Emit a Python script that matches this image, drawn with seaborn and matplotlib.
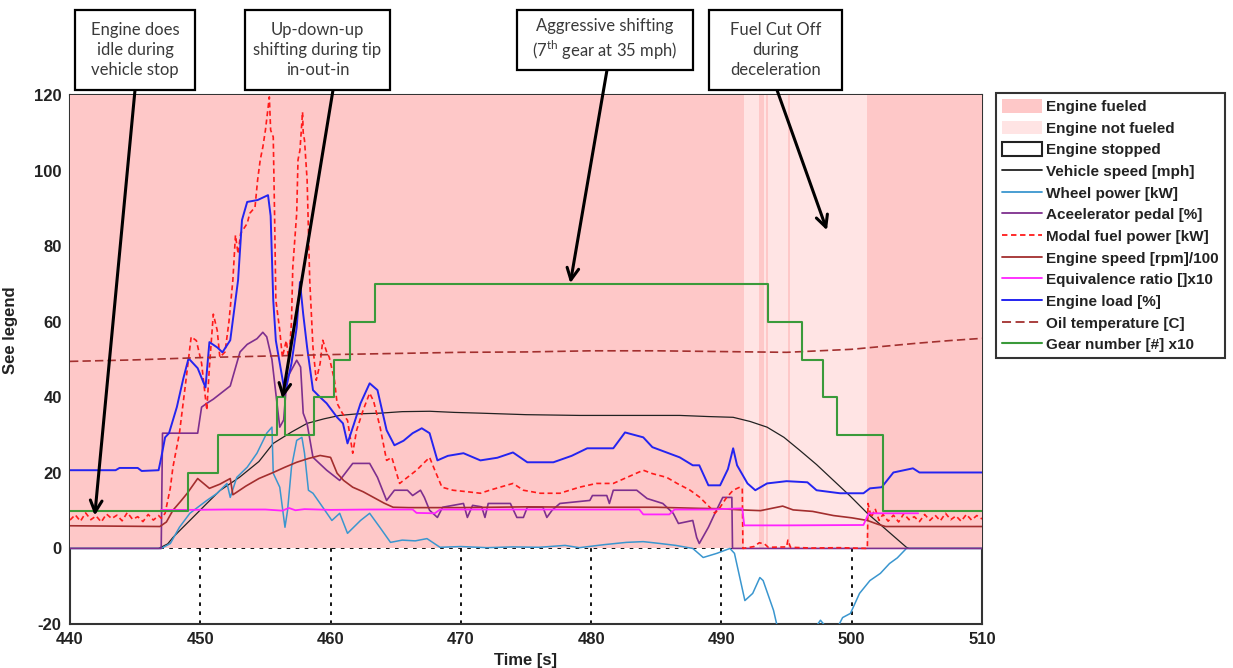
import matplotlib
matplotlib.use("Agg")
import matplotlib.pyplot as plt
import seaborn as sns
import numpy as np
from matplotlib.patches import Patch, Rectangle
from matplotlib.lines import Line2D

# ---------------- data ----------------
fuel_breaks = [440, 491.75, 492.9, 493.3, 493.45, 493.6, 495.1, 495.25, 501.2, 510]
fuel_state = [1, 0, 1, 0, 1, 0, 1, 0, 1]   # 1 = engine fueled, 0 = not fueled

vs_t = [440, 446.8, 447.5, 447.9, 448.5, 449.2, 450.5, 451.5, 453.0, 454.5, 455.6, 457.0, 458.2,
        459.5, 460.7, 462.0, 463.8, 465.5, 467.6, 469.5, 471.5, 475.0, 479.1, 483.0, 486.8, 489.0,
        490.9, 492.2, 493.5, 494.8, 496.0, 497.3, 498.6, 499.9, 501.2, 502.7, 504.2, 504.4, 510]
vs_v = [0, 0, 1.2, 2.9, 5.0, 7.4, 11.9, 15.3, 18.8, 23.0, 27.8, 30.8, 33.1,
        34.3, 35.2, 35.6, 35.8, 36.2, 36.3, 36.0, 35.8, 35.4, 35.2, 35.2, 35.2, 34.9,
        34.7, 33.6, 32.1, 29.4, 26.0, 22.2, 18.0, 13.8, 9.3, 4.8, 0.3, 0, 0]

wp_t = [440, 447.0, 447.7, 448.4, 449.2, 450.5, 451.3, 452.05, 452.3, 452.8, 453.6, 454.35, 455.1,
        455.5, 455.6, 456.1, 456.5, 456.7, 457.0, 457.4, 457.8, 458.0, 458.3, 458.65, 459.4, 460.1,
        460.7, 461.3, 462.3, 463.0, 463.8, 464.6, 465.5, 466.5, 467.4, 468.4, 470.0, 472.0, 474.0,
        476.0, 478.0, 479.1, 481.0, 482.7, 484.0, 485.3, 486.5, 487.8, 488.6, 489.65, 490.65, 491.0,
        491.8, 492.4, 492.95, 493.2, 494.0, 494.3, 495.5, 496.8, 497.3, 497.6, 498.2, 498.9, 499.3,
        499.9, 500.6, 501.4, 502.2, 502.9, 503.5, 504.2, 510]
wp_v = [0, 0, 1.3, 5.6, 9.3, 12.7, 14.6, 17.2, 13.5, 18.8, 21.5, 25.2, 30.5,
        32.1, 19.9, 16.2, 5.6, 10.1, 21.5, 28.6, 29.4, 25.2, 15.4, 14.6, 10.9, 7.4,
        9.3, 4.0, 7.4, 9.3, 5.5, 1.6, 2.2, 2.0, 2.6, 0.3, 0.5, 0.2, 0.4,
        0.3, 0.8, 0.2, 1.0, 1.6, 1.8, 1.3, 0.8, 0.0, -2.4, -1.3, 0.0, -1.3,
        -13.8, -11.9, -7.7, -8.5, -16.4, -20.9, -27.0, -24.0, -20.5, -19.0, -21.5, -21.0, -18.3,
        -17.2, -11.9, -8.5, -6.6, -4.0, -2.5, 0, 0]

ap_t = [440, 447.0, 447.1, 449.8, 450.1, 450.5, 451.0, 452.3, 453.05, 453.6, 454.35, 454.8, 455.1,
        455.5, 455.9, 456.1, 456.4, 456.65, 457.4, 457.7, 457.9, 458.2, 458.65, 459.7, 460.7, 461.7,
        463.0, 463.6, 464.3, 464.9, 465.9, 466.3, 466.9, 467.2, 467.6, 468.2, 468.6, 470.2, 470.5,
        470.9, 471.6, 471.85, 472.1, 473.8, 474.3, 474.8, 475.1, 476.3, 476.6, 477.0, 477.6, 479.9,
        480.1, 481.2, 481.4, 481.7, 483.5, 484.3, 485.5, 486.3, 486.7, 487.8, 488.1, 488.3, 489.0,
        489.5, 490.1, 490.8, 490.85, 510]
ap_v = [0, 0, 30.5, 30.5, 37.4, 38.4, 39.5, 43.0, 52.0, 54.0, 55.5, 57.2, 56.0,
        50.0, 38.0, 32.1, 34.0, 45.0, 49.8, 48.0, 35.8, 33.0, 24.1, 20.7, 18.0, 22.5,
        22.5, 18.8, 12.7, 15.4, 15.4, 14.0, 15.4, 13.5, 10.1, 8.2, 10.9, 11.9, 8.2,
        11.4, 11.0, 8.2, 11.9, 11.9, 8.2, 8.2, 10.9, 10.9, 8.2, 10.1, 11.9, 12.7,
        14.0, 14.0, 11.9, 15.4, 15.4, 13.2, 11.9, 9.3, 6.6, 7.4, 2.9, 1.3, 5.6,
        9.3, 13.5, 13.5, 0, 0]

fp_t = [440.0, 440.4, 440.8, 441.2, 441.6, 442.0, 442.4, 442.8, 443.2, 443.6, 444.0, 444.4, 444.8,
        445.2, 445.6, 446.0, 446.4, 446.8, 447.0, 447.3, 447.7, 447.9, 448.4, 448.9, 449.3, 449.7,
        450.1, 450.5, 450.7, 451.0, 451.3, 451.5, 451.9, 452.2, 452.5, 452.7, 452.9, 453.1, 453.6,
        453.8, 454.2, 454.4, 454.6, 454.8, 455.0, 455.3, 455.4, 455.6, 455.7, 455.8, 456.1, 456.3,
        456.6, 456.8, 457.0, 457.1, 457.4, 457.5, 457.65, 457.85, 457.9, 458.0, 458.2, 458.3, 458.4,
        458.65, 458.9, 459.2, 459.4, 459.7, 459.9, 460.3, 460.5, 460.9, 461.3, 461.7, 462.0, 462.5,
        463.0, 463.3, 463.8, 464.3, 464.7, 465.3, 465.9, 466.6, 467.6, 468.0, 468.55, 469.4, 470.5,
        471.5, 472.3, 473.0, 474.0, 474.8, 476.1, 477.6, 479.1, 480.4, 481.7, 482.75, 484.0, 484.7,
        485.8, 486.6, 487.6, 488.35, 489.1, 489.5, 489.9, 490.4, 490.9, 491.4, 491.6, 491.65, 492.5,
        492.9, 493.3, 493.6, 495.0, 495.1, 495.3, 497.0, 499.0, 501.2, 501.25, 501.5, 501.8, 502.1,
        502.4, 502.8, 503.2, 503.6, 504.0, 504.4, 504.8, 505.2, 505.6, 506.0, 506.4, 506.8, 507.2,
        507.6, 508.0, 508.4, 508.8, 509.2, 509.6, 510.0]
fp_v = [7.5, 8.9, 7.2, 9.4, 7.6, 8.6, 7.0, 9.1, 7.9, 8.8, 7.3, 9.5, 7.7,
        8.4, 7.1, 9.0, 7.5, 8.7, 8.0, 9.3, 16.0, 21.5, 30.5, 44.5, 56.0, 55.0,
        49.0, 36.6, 48.0, 62.0, 57.7, 50.6, 52.0, 60.0, 71.0, 82.9, 78.0, 83.4, 86.0,
        88.7, 90.3, 97.5, 102.8, 106.2, 110.7, 119.5, 110.7, 108.9, 88.7, 65.7, 57.7, 50.6,
        55.0, 49.8, 60.0, 74.4, 88.7, 102.8, 105.4, 115.5, 110.0, 108.0, 97.5, 84.2, 71.0,
        53.2, 44.5, 49.0, 55.1, 52.0, 50.6, 44.5, 38.4, 35.8, 33.9, 25.2, 31.3, 36.6,
        41.1, 39.0, 32.1, 23.3, 24.1, 17.2, 18.8, 20.7, 24.1, 20.7, 16.2, 15.4, 15.0,
        14.6, 15.5, 16.2, 17.2, 15.4, 14.6, 14.6, 16.2, 17.2, 17.2, 18.8, 20.7, 19.8,
        18.8, 17.2, 15.4, 13.5, 10.9, 9.3, 10.9, 13.5, 15.4, 16.2, 16.0, 0.0, 0.5,
        1.5, 1.2, 0.3, 0.4, 2.2, 0.3, 0.1, 0.2, 0.0, 11.9, 8.2, 10.5, 7.4,
        9.0, 7.2, 8.8, 7.0, 9.2, 7.6, 8.4, 7.1, 9.0, 7.4, 8.8, 7.3, 9.3,
        7.6, 8.6, 7.2, 9.0, 7.5, 8.7, 7.8]

es_t = [440, 446.9, 447.4, 447.9, 448.5, 449.0, 449.8, 450.7, 451.5, 452.3, 452.5, 453.5, 454.5,
        455.6, 456.5, 457.4, 458.3, 459.2, 460.0, 460.5, 461.0, 461.7, 462.5, 463.3, 464.1, 464.8,
        466.0, 470.0, 475.0, 480.0, 485.0, 488.3, 490.0, 491.5, 493.0, 494.7, 495.5, 497.0, 498.6,
        500.0, 501.2, 502.0, 502.6, 505.0, 510]
es_v = [6.0, 5.8, 7.0, 10.1, 12.5, 14.6, 18.5, 15.9, 17.0, 18.5, 14.2, 16.5, 18.5,
        20.1, 21.5, 22.8, 23.8, 24.6, 24.1, 19.9, 18.0, 16.2, 15.0, 13.5, 12.0, 10.9,
        10.8, 10.8, 11.0, 10.9, 10.9, 10.6, 10.5, 10.2, 10.0, 11.2, 10.2, 9.8, 8.7,
        8.1, 7.4, 6.4, 5.8, 5.8, 5.8]

eq_t = [447.0, 449.0, 452.0, 455.0, 456.3, 456.8, 457.3, 458.0, 460.0, 463.0, 466.3, 466.6, 468.0,
        468.4, 472.0, 476.0, 480.0, 483.7, 484.0, 486.0, 486.4, 489.0, 491.6, 491.75, 495.0, 500.9,
        501.3, 505.1]
eq_v = [10.2, 10.2, 10.3, 10.3, 10.0, 10.7, 10.1, 10.4, 10.2, 10.3, 10.3, 9.4, 9.3,
        10.3, 10.3, 10.3, 10.3, 10.3, 9.0, 9.0, 10.3, 10.3, 10.6, 6.1, 6.1, 6.2,
        9.3, 9.3]

el_t = [440, 443.5, 443.8, 445.2, 445.5, 446.8, 447.0, 447.3, 447.6, 448.2, 448.7, 449.1, 449.8,
        450.4, 450.7, 451.3, 451.7, 452.3, 452.7, 452.9, 453.2, 453.6, 454.4, 455.2, 455.4, 455.6,
        455.8, 456.1, 456.5, 457.0, 457.4, 457.65, 457.9, 458.2, 458.65, 459.2, 459.7, 460.5, 460.95,
        461.3, 461.8, 462.3, 463.0, 463.6, 464.3, 464.9, 465.6, 466.3, 467.0, 467.6, 468.2, 469.0,
        470.2, 471.5, 472.8, 474.0, 475.1, 477.1, 478.5, 479.7, 481.7, 482.6, 484.0, 484.7, 486.8,
        487.8, 488.3, 489.0, 489.9, 490.5, 490.9, 491.2, 492.0, 492.6, 493.5, 495.0, 496.6, 497.3,
        499.1, 500.9, 501.4, 502.3, 503.2, 504.7, 505.2, 510]
el_v = [20.7, 20.7, 21.3, 21.3, 20.5, 20.7, 24.0, 29.4, 30.5, 37.4, 45.0, 50.3, 47.7,
        42.6, 54.6, 53.2, 51.9, 55.1, 65.7, 71.0, 86.9, 91.7, 92.2, 93.5, 88.0, 65.7,
        55.0, 49.0, 41.0, 49.0, 58.5, 70.5, 62.0, 53.2, 41.9, 40.0, 38.4, 34.7, 33.1,
        27.8, 33.0, 38.4, 43.7, 41.9, 31.3, 27.3, 28.5, 30.5, 31.8, 30.5, 23.3, 24.5,
        25.2, 23.3, 24.0, 25.4, 22.8, 22.8, 24.5, 26.5, 26.5, 30.7, 29.4, 26.8, 24.1,
        22.0, 22.0, 16.7, 16.7, 21.0, 26.5, 22.0, 17.2, 15.4, 17.2, 17.8, 17.5, 15.4,
        14.6, 14.6, 15.9, 16.2, 20.1, 21.2, 20.1, 20.1]

ot_t = [440, 445, 450, 455, 460, 465, 470, 475, 480, 485, 490, 495, 500, 502.5, 505, 507.5, 510]
ot_v = [49.5, 49.9, 50.5, 50.9, 51.3, 51.6, 51.9, 52.0, 52.3, 52.3, 52.1, 51.9, 52.7, 53.5, 54.3, 55.0, 55.6]

gear_t = [440, 449.05, 451.35, 455.9, 456.5, 458.75, 460.3, 461.5, 463.4, 493.55, 496.2, 497.8,
          498.85, 502.4, 510]
gear_v = [10, 20, 30, 40, 30, 40, 50, 60, 70, 60, 50, 40, 30, 10, 10]

labels = ["Engine fueled", "Engine not fueled", "Engine stopped", "Vehicle speed [mph]",
          "Wheel power [kW]", "Aceelerator pedal [%]", "Modal fuel power [kW]",
          "Engine speed [rpm]/100", "Equivalence ratio []x10", "Engine load [%]",
          "Oil temperature [C]", "Gear number [#] x10"]

notes = ["Engine does\nidle during\nvehicle stop",
         "Up-down-up\nshifting during tip\nin-out-in",
         "Aggressive shifting\n(7$^{\\mathrm{th}}$ gear at 35 mph)",
         "Fuel Cut Off\nduring\ndeceleration"]
note_targets_x = [441.9, 456.3, 478.4, 498.1]
note_targets_y = [8.7, 39.7, 70.2, 84.2]

xticks = [440, 450, 460, 470, 480, 490, 500, 510]
yticks = [-20, 0, 20, 40, 60, 80, 100, 120]

# ---------------- style ----------------
sns.set_theme(style="white")
plt.rcParams['font.family'] = ['Liberation Sans', 'DejaVu Sans']
plt.rcParams['mathtext.fontset'] = 'custom'
plt.rcParams['mathtext.rm'] = 'Lato'
plt.rcParams['axes.unicode_minus'] = False

C_FUEL = '#FEC8C8'
C_NOFUEL = '#FFE4E4'
C_VS = '#222222'
C_WP = '#3A96CF'
C_AP = '#7E2F8E'
C_FP = '#FF1A1A'
C_ES = '#A32E2E'
C_EQ = '#FF22FF'
C_EL = '#2424F0'
C_OT = '#A3302F'
C_GEAR = '#3A9A3A'

W, H = 1233, 668
fig = plt.figure(figsize=(W / 100, H / 100), dpi=100)
ax = fig.add_axes([70 / W, 44 / H, 912 / W, 529 / H])
ax.set_xlim(440, 510)
ax.set_ylim(-20, 120)

# background (fuel state) spans between y=0 and 120
for a, b, s in zip(fuel_breaks[:-1], fuel_breaks[1:], fuel_state):
    ax.fill_between([a, b], 0, 120, color=C_FUEL if s else C_NOFUEL, lw=0, zorder=2.6)

ax.set_axisbelow(True)
ax.grid(True, color='black', linestyle=(0, (2, 3)), linewidth=1.3)
for sp in ax.spines.values():
    sp.set_color('#333333')
    sp.set_linewidth(1.5)

series = [
    (vs_t, vs_v, C_VS, 0.9, '-', None),
    (wp_t, wp_v, C_WP, 1.1, '-', None),
    (ap_t, ap_v, C_AP, 1.2, '-', None),
    (fp_t, fp_v, C_FP, 1.2, (0, (3, 2)), None),
    (es_t, es_v, C_ES, 1.2, '-', None),
    (eq_t, eq_v, C_EQ, 1.3, '-', None),
    (el_t, el_v, C_EL, 1.4, '-', None),
    (ot_t, ot_v, C_OT, 1.2, (0, (5, 2.5)), None),
    (gear_t, gear_v, C_GEAR, 1.5, '-', 'steps-post'),
]
for i, (t, v, c, lw, ls, ds) in enumerate(series):
    kw = dict(drawstyle=ds) if ds else {}
    sns.lineplot(x=np.array(t), y=np.array(v), ax=ax, color=c, linewidth=lw, linestyle=ls,
                 sort=False, estimator=None, zorder=3 + i * 0.1, **kw)

ax.set_xticks(xticks)
ax.set_yticks(yticks)
ax.tick_params(length=0, labelsize=12, pad=6)
for lab in ax.get_xticklabels() + ax.get_yticklabels():
    lab.set_fontweight('bold')
    lab.set_color('#222222')
ax.set_xlabel("Time [s]", fontsize=12, fontweight='bold', color='#222222', labelpad=4)
ax.set_ylabel("See legend", fontsize=12, fontweight='bold', color='#222222')
ax.yaxis.set_label_coords(-0.057, 0.556)

# ---------------- annotation boxes (figure pixels, top-left origin) ----------------
boxes = [(75, 10, 120, 80), (245, 10, 145, 80), (517, 10, 176, 60), (709, 10, 133, 80)]
arrow_start_x = [135, 333, 607, 777]
for txt, (bx, by, bw, bh), sx, tx, ty in zip(notes, boxes, arrow_start_x,
                                             note_targets_x, note_targets_y):
    fig.add_artist(Rectangle((bx / W, 1 - (by + bh) / H), bw / W, bh / H,
                             transform=fig.transFigure, fc='white', ec='black', lw=1.6,
                             zorder=10))
    fig.text((bx + bw / 2) / W, 1 - (by + bh / 2) / H, txt, ha='center', va='center',
             fontsize=12, family='Lato', color='#3a3a3a', linespacing=1.3, zorder=11)
    ax.annotate("", xy=(tx, ty), xycoords='data',
                xytext=(sx, H - (by + bh)), textcoords='figure pixels',
                annotation_clip=False, zorder=10,
                arrowprops=dict(arrowstyle='->,head_length=0.7,head_width=0.35',
                                color='black', lw=2.2, shrinkA=0, shrinkB=0))

# ---------------- legend ----------------
handles = [Patch(fc=C_FUEL, ec='none'), Patch(fc=C_NOFUEL, ec='none'),
           Patch(fc='white', ec='#222222', lw=1.5)]
for t, v, c, lw, ls, ds in series:
    handles.append(Line2D([], [], color=c, lw=max(lw, 1.3), linestyle=ls))
leg = fig.legend(handles, labels, loc='upper left', bbox_to_anchor=(996 / W, 1 - 93 / H),
                 bbox_transform=fig.transFigure, frameon=True, fancybox=False,
                 edgecolor='#333333', framealpha=1,
                 prop={'weight': 'bold', 'size': 11}, handlelength=2.6, handleheight=1.0,
                 handletextpad=0.3, labelspacing=0.43, borderpad=0.4, borderaxespad=0)
leg.get_frame().set_linewidth(1.5)
for txt in leg.get_texts():
    txt.set_color('#222222')

fig.savefig("out.png", dpi=100)
